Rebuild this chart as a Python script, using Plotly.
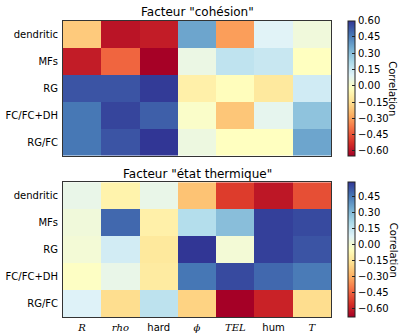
import plotly.graph_objects as go

# Row / column labels
rows = ["dendritic", "MFs", "RG", "FC/FC+DH", "RG/FC"]
cols = ["R", "rho", "hard", "phi", "TEL", "hum", "T"]
SERIF = "font-family:'DejaVu Serif'"
col_ticktext = [
    f"<span style=\"{SERIF}\"><i>R</i></span>",
    f"<span style=\"{SERIF}\"><i>rho</i></span>",
    "hard",
    f"<span style=\"{SERIF}\"><i>ϕ</i></span>",
    f"<span style=\"{SERIF}\"><i>TEL</i></span>",
    "hum",
    f"<span style=\"{SERIF}\"><i>T</i></span>",
]

# Correlation values, factor "cohésion"
cohesion = [
    [-0.20, -0.59, -0.57, 0.37, -0.30, 0.10, 0.04],
    [-0.57, -0.41, -0.64, 0.06, 0.18, 0.16, -0.02],
    [0.54, 0.54, 0.59, -0.08, -0.03, -0.11, 0.14],
    [0.47, 0.57, 0.52, 0.00, -0.21, 0.08, 0.29],
    [0.47, 0.54, 0.60, 0.05, -0.02, -0.02, 0.37],
]

# Correlation values, factor "état thermique"
thermique = [
    [0.04, -0.10, 0.04, -0.25, -0.53, -0.62, -0.49],
    [0.01, 0.48, -0.11, 0.18, 0.28, 0.56, 0.54],
    [0.00, 0.11, -0.14, 0.58, 0.00, 0.56, 0.52],
    [-0.04, 0.04, -0.13, 0.45, 0.54, 0.48, 0.44],
    [0.08, -0.18, 0.16, -0.21, -0.68, -0.59, -0.18],
]

titles = ['Facteur "cohésion"', 'Facteur "état thermique"']
cb_label = "Correlation"

rdylbu = [
    [0.0, "rgb(165,0,38)"], [0.1, "rgb(215,48,39)"], [0.2, "rgb(244,109,67)"],
    [0.3, "rgb(253,174,97)"], [0.4, "rgb(254,224,144)"], [0.5, "rgb(255,255,191)"],
    [0.6, "rgb(224,243,248)"], [0.7, "rgb(171,217,233)"], [0.8, "rgb(116,173,209)"],
    [0.9, "rgb(69,117,180)"], [1.0, "rgb(49,54,149)"],
]

W, H = 400, 333
FONT = "DejaVu Sans"


def py(px):
    return 1 - px / H


x_dom = [63 / W, 331 / W]
panels = [
    dict(data=cohesion, top=21, bot=158, zmin=-0.643, zmax=0.60, title_y=12),
    dict(data=thermique, top=185, bot=322, zmin=-0.68, zmax=0.58, title_y=177),
]

fig = go.Figure()
annotations = []
for i, p in enumerate(panels):
    xa = "x" if i == 0 else f"x{i + 1}"
    ya = "y" if i == 0 else f"y{i + 1}"
    fig.add_trace(go.Heatmap(
        z=p["data"], x=cols, y=rows, xaxis=xa, yaxis=ya,
        colorscale=rdylbu, zmin=p["zmin"], zmax=p["zmax"],
        colorbar=dict(
            x=348 / W, xanchor="left", thickness=7, thicknessmode="pixels",
            len=(p["bot"] - p["top"]) / H, lenmode="fraction",
            y=py((p["top"] + p["bot"]) / 2), yanchor="middle",
            outlinewidth=1, outlinecolor="#222",
            tick0=0, dtick=0.15, tickformat=".2f",
            ticks="inside", ticklen=3, tickcolor="#222",
            tickfont=dict(family=FONT, size=10, color="black"),
            xpad=0, ypad=0,
        ),
        hoverongaps=False,
    ))
    ydom = [py(p["bot"]), py(p["top"])]
    axis_common = dict(showline=True, mirror=True, linecolor="#333", linewidth=1,
                       ticks="", showgrid=False, zeroline=False,
                       tickfont=dict(family=FONT, size=10, color="black"))
    fig.layout[("xaxis" if i == 0 else f"xaxis{i + 1}")] = dict(
        domain=x_dom, anchor=ya, showticklabels=(i == 1),
        tickvals=cols, ticktext=col_ticktext, ticklabelstandoff=1, **axis_common,
    )
    fig.layout[("yaxis" if i == 0 else f"yaxis{i + 1}")] = dict(
        domain=ydom, anchor=xa, autorange="reversed", ticklabelstandoff=2,
        **axis_common,
    )
    annotations.append(dict(
        text=titles[i], x=(x_dom[0] + x_dom[1]) / 2, y=py(p["title_y"]),
        xref="paper", yref="paper", showarrow=False, xanchor="center", yanchor="middle",
        font=dict(family=FONT, size=12, color="black"),
    ))
    annotations.append(dict(
        text=cb_label, x=393 / W, y=py((p["top"] + p["bot"]) / 2),
        xref="paper", yref="paper", showarrow=False, textangle=90,
        xanchor="center", yanchor="middle",
        font=dict(family=FONT, size=10, color="black"),
    ))

fig.update_layout(
    width=W, height=H, margin=dict(l=0, r=0, t=0, b=0),
    paper_bgcolor="white", plot_bgcolor="white",
    annotations=annotations,
)

fig.write_html("out.html")
